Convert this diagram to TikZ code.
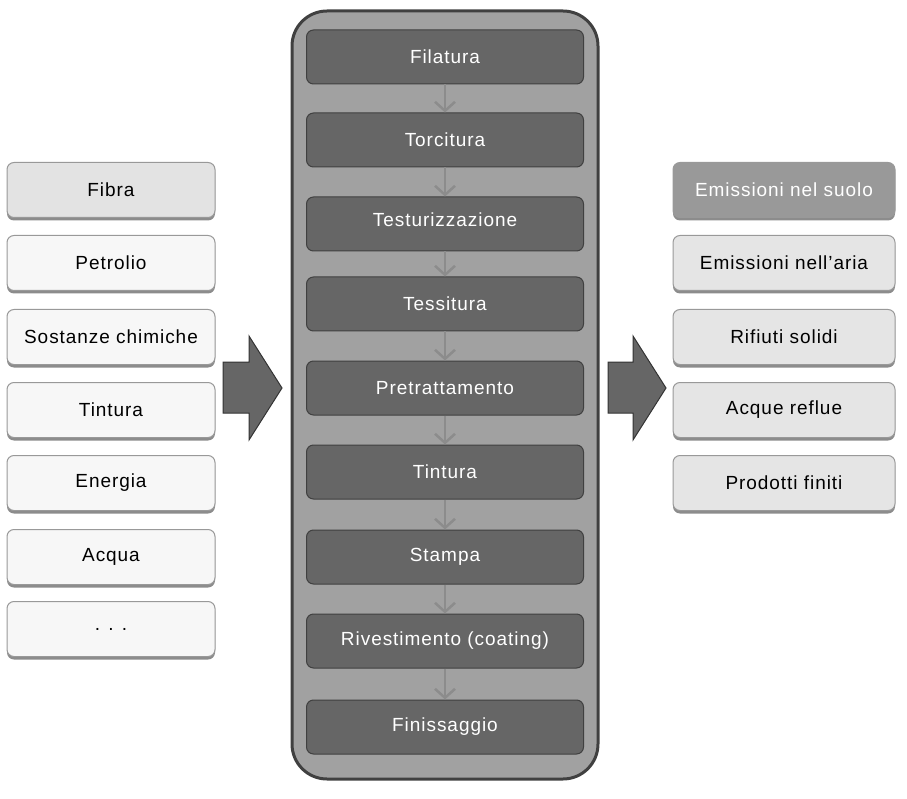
\documentclass[tikz,border=0pt]{standalone}
\usepackage{fontspec}
\setmainfont{Liberation Sans}[LetterSpace=5]
\usetikzlibrary{shadows,arrows.meta}

\tikzset{
  inbox/.style={draw=black!40, line width=1pt, fill=black!3, rounded corners=7pt,
    minimum width=208pt, minimum height=55pt, inner sep=0pt,
    drop shadow={shadow xshift=0pt, shadow yshift=-3pt, fill=black!45, opacity=1}},
  outbox/.style={inbox, minimum width=222pt, fill=black!10},
  stepbox/.style={draw=black!75, line width=1pt, fill=black!60, text=white, rounded corners=7pt,
    minimum width=277pt, minimum height=54pt, inner sep=0pt},
  flow/.style={draw=black!45, line width=2.5pt, -{Straight Barb[length=9pt,width=20pt]}},
  bigarrow/.style={draw=black!80, line width=1pt, fill=black!60}
}

\begin{document}
\begin{tikzpicture}[x=1pt,y=-1pt,font=\fontsize{19}{22}\selectfont]
\useasboundingbox (0,0) rectangle (907,799);

% Input
\node[inbox, fill=black!11] (fibra) at (111,190) {Fibra};
\node[inbox] (petrolio) at (111,263) {Petrolio};
\node[inbox] (sostanze) at (111,337) {Sostanze chimiche};
\node[inbox] (tinturain) at (111,410) {Tintura};
\node[inbox] (energia) at (111,483) {Energia};
\node[inbox] (acqua) at (111,557) {Acqua};
\node[inbox] (altro) at (111,629) {. . .};

% Process
\draw[line width=3pt, draw=black!75, fill=black!37, rounded corners=35pt] (292,11) rectangle (598,779);
\node[stepbox] (filatura) at (445,57) {Filatura};
\node[stepbox] (torcitura) at (445,140) {Torcitura};
\node[stepbox] (testurizzazione) at (445,224) {\raisebox{9pt}{Testurizzazione}};
\node[stepbox] (tessitura) at (445,304) {Tessitura};
\node[stepbox] (pretrattamento) at (445,388) {Pretrattamento};
\node[stepbox] (tintura) at (445,472) {Tintura};
\node[stepbox] (stampa) at (445,557) {Stampa};
\node[stepbox] (rivestimento) at (445,641) {Rivestimento (coating)};
\node[stepbox] (finissaggio) at (445,727) {Finissaggio};

\draw[flow] (filatura) -- (torcitura);
\draw[flow] (torcitura) -- (testurizzazione);
\draw[flow] (testurizzazione) -- (tessitura);
\draw[flow] (tessitura) -- (pretrattamento);
\draw[flow] (pretrattamento) -- (tintura);
\draw[flow] (tintura) -- (stampa);
\draw[flow] (stampa) -- (rivestimento);
\draw[flow] (rivestimento) -- (finissaggio);

% Big arrows
\draw[bigarrow] (223,362) -- (249,362) -- (249,336) -- (282,388) -- (249,440) -- (249,413) -- (223,413) -- cycle;
\draw[bigarrow] (608,362) -- (633,362) -- (633,336) -- (666,388) -- (633,440) -- (633,413) -- (608,413) -- cycle;

% Output
\node[outbox, fill=black!40, text=white] (suolo) at (784,190) {Emissioni nel suolo};
\node[outbox] (aria) at (784,263) {Emissioni nell'aria};
\node[outbox] (rifiuti) at (784,337) {Rifiuti solidi};
\node[outbox] (reflue) at (784,410) {Acque reflue};
\node[outbox] (prodotti) at (784,483) {Prodotti finiti};

\end{tikzpicture}
\end{document}
